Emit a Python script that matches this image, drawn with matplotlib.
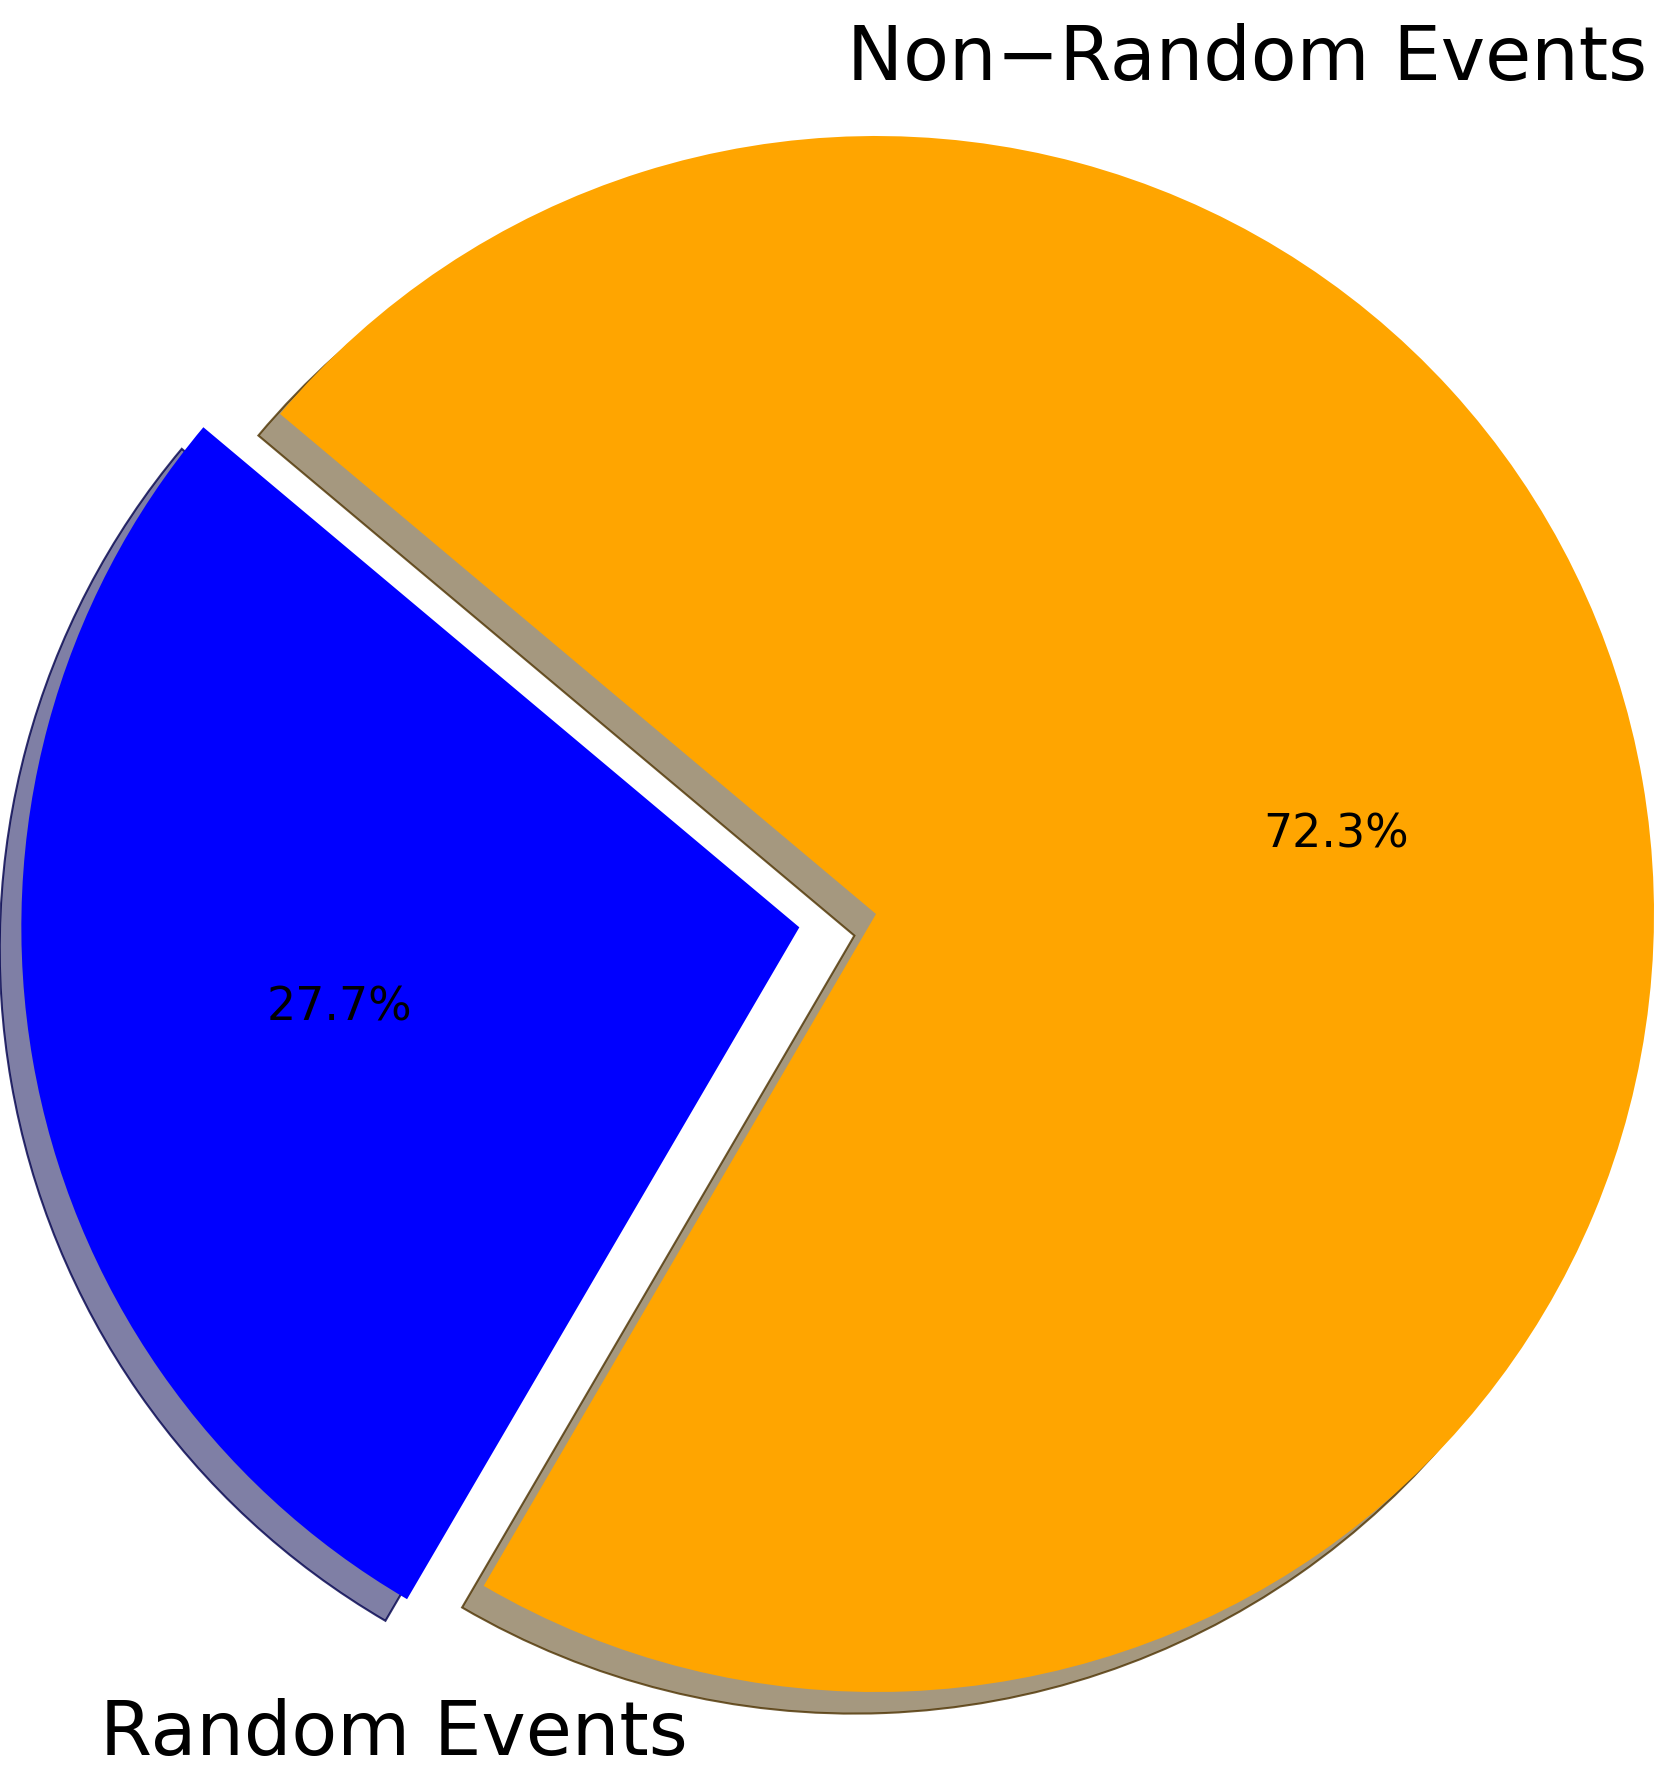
import numpy as np
import matplotlib.pyplot as plt
from matplotlib.patches import Shadow
from matplotlib.colors import to_rgba

labels = ['Random Events', 'Non\u2212Random Events']
sizes = [27.7, 72.3]
colors = ['blue', 'orange']
explode = [0.1, 0]

W, H = 1661, 1781
fig = plt.figure(figsize=(W / 100, H / 100), dpi=100)
ax = fig.add_axes([0, 0, 1, 1])

wedges, texts, autotexts = ax.pie(sizes, explode=explode, colors=colors,
                                  autopct='%1.1f%%', shadow=True, startangle=140,
                                  textprops={'fontsize': 33})

# darker rim on the shadows, like the original
for p in ax.patches:
    if isinstance(p, Shadow):
        r_, g_, b_, _ = p.get_facecolor()
        p.set_alpha(None)
        p.set_facecolor((r_, g_, b_, 0.5))
        p.set_edgecolor((r_, g_, b_, 0.8))
        p.set_linewidth(1.5)

# place pie: centre at (876, 915) px, radius 778 px
cx, cy, r = 876, 915, 778
ax.set_xlim(-cx / r, (W - cx) / r)
ax.set_ylim(-(H - cy) / r, cy / r)
ax.set_aspect('auto')
ax.axis('off')

fig.text(1647 / W, 1 - 80 / H, labels[1], ha='right', va='baseline', fontsize=54)
fig.text(100 / W, 1 - 1755 / H, labels[0], ha='left', va='baseline', fontsize=54)

fig.savefig('out.png', dpi=100)
